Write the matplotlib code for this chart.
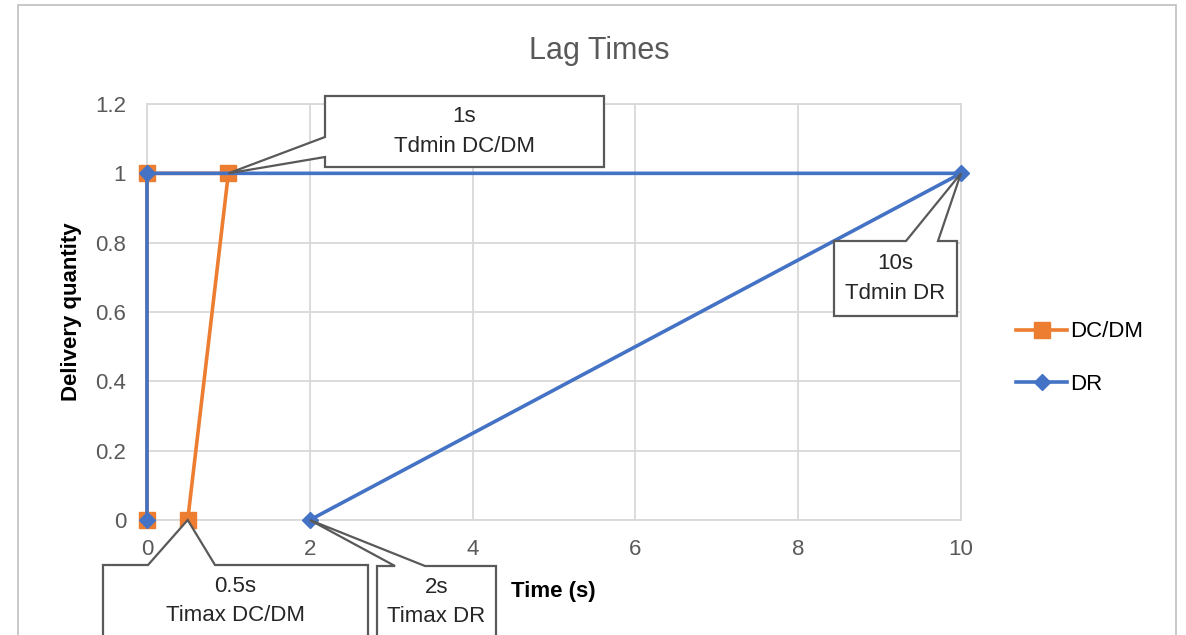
import matplotlib.pyplot as plt
from matplotlib.patches import Polygon, Rectangle

plt.rcParams['font.family'] = ['Liberation Sans', 'DejaVu Sans']

# series (x = time in s, y = delivery quantity)
dcdm_x = [0.5, 1, 0, 0]
dcdm_y = [0, 1, 1, 0]
dr_x = [0, 0, 10, 2]
dr_y = [0, 1, 1, 0]

x_ticks = [0, 2, 4, 6, 8, 10]
y_ticks = [0, 0.2, 0.4, 0.6, 0.8, 1.0, 1.2]
y_labels = ['0', '0.2', '0.4', '0.6', '0.8', '1', '1.2']

W, H = 1186, 635
fig = plt.figure(figsize=(W / 100, H / 100), dpi=100)
ax = fig.add_axes([147 / W, 1 - 520 / H, 814 / W, 416 / H])

orange = '#ED7D31'
blue = '#4472C4'
grey = '#595959'
fs = 16

ax.plot(dcdm_x, dcdm_y, '-s', color=orange, lw=2.6, markersize=11, label='DC/DM',
        clip_on=False, zorder=3)
ax.plot(dr_x, dr_y, '-D', color=blue, lw=2.6, markersize=8, label='DR',
        clip_on=False, zorder=4)

ax.set_xlim(0, 10)
ax.set_ylim(0, 1.2)
ax.set_xticks(x_ticks)
ax.set_yticks(y_ticks)
ax.set_yticklabels(y_labels)
ax.tick_params(length=0, labelsize=fs, labelcolor=grey)
ax.tick_params(axis='x', pad=14)
ax.tick_params(axis='y', pad=15)
ax.grid(True, color='#D9D9D9', lw=1.3)
for s in ax.spines.values():
    s.set_color('#D9D9D9')
    s.set_linewidth(1.3)
ax.set_axisbelow(True)

fig.text(599 / W, 1 - 51 / H, 'Lag Times', fontsize=22, color=grey, ha='center', va='center')
fig.text(72 / W, 1 - 312 / H, 'Delivery quantity', fontsize=16, fontweight='bold',
         rotation=90, ha='center', va='center')
fig.text(553 / W, 1 - 592 / H, 'Time (s)', fontsize=16, fontweight='bold',
         ha='center', va='center')

ax.legend(loc='center left', bbox_to_anchor=(996 / W, 1 - 358 / H),
          bbox_transform=fig.transFigure, frameon=False, fontsize=16,
          handlelength=2.3, labelspacing=1.4, handletextpad=0.15)

# outer chart border
fig.patches.append(Rectangle((18 / W, -0.05), 1158 / W, 1.05 - 5 / H, transform=fig.transFigure,
                             fill=False, edgecolor='#BFBFBF', lw=1.2))


def px(x, y):
    return (x, H - y)


def callout(box, side, base, tip_data, lines):
    x0, y0, x1, y1 = box
    tip = tuple(ax.transData.transform(tip_data))
    b1, b2 = base
    if side == 'left':
        pts = [px(x0, y0), px(x1, y0), px(x1, y1), px(x0, y1), px(x0, b2), tip, px(x0, b1)]
    else:  # top
        pts = [px(x0, y0), px(b1, y0), tip, px(b2, y0), px(x1, y0), px(x1, y1), px(x0, y1)]
    fig.patches.append(Polygon(pts, closed=True, transform=None, facecolor='white',
                               edgecolor='#595959', lw=1.6, zorder=5))
    cx = (x0 + x1) / 2
    cy = (y0 + y1) / 2 if y1 <= H else y0 + 36
    fig.text(cx / W, 1 - cy / H, lines, fontsize=fs, color='#262626', ha='center',
             va='center', linespacing=1.55, zorder=6)


callout((325, 96, 604, 167), 'left', (137, 157), (1, 1), '1s\nTdmin DC/DM')
callout((834, 241, 957, 316), 'top', (906, 938), (10, 1), '10s\nTdmin DR')
callout((103, 565, 368, 660), 'top', (148, 215), (0.5, 0), '0.5s\nTimax DC/DM')
callout((377, 566, 496, 660), 'top', (395, 425), (2, 0), '2s\nTimax DR')

fig.savefig('out.png', dpi=100)
